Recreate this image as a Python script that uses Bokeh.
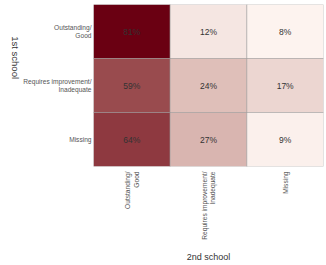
import math
from bokeh.plotting import figure
from bokeh.models import (ColumnDataSource, FactorRange, LinearColorMapper, CategoricalAxis)
from bokeh.transform import transform
from bokeh.core.properties import value
from bokeh.embed import file_html
from bokeh.resources import INLINE

# ---- data ----
first_school = ["Outstanding/\nGood", "Requires improvement/\nInadequate", "Missing"]
second_school = ["Outstanding/\nGood", "Requires improvement/\nInadequate", "Missing"]
pct_from_outstanding = [81, 12, 8]
pct_from_requires = [59, 24, 17]
pct_from_missing = [64, 27, 9]
x_title = "2nd school"
y_title = "1st school"

rows = [pct_from_outstanding, pct_from_requires, pct_from_missing]
xs, ys, vs, labels = [], [], [], []
for fs, row in zip(first_school, rows):
    for ss, v in zip(second_school, row):
        xs.append(ss)
        ys.append(fs)
        vs.append(v)
        labels.append(f"{v}%")
src = ColumnDataSource(dict(x=xs, y=ys, v=vs, label=labels))

# ---- colour scale ----
def _hex(c):
    return tuple(int(c[i:i + 2], 16) for i in (1, 3, 5))

stops = ["#fdf3ef", "#b87c75", "#6a0012"]
palette = []
n = 256
for i in range(n):
    t = i / (n - 1) * (len(stops) - 1)
    k = min(int(t), len(stops) - 2)
    f = t - k
    a, b = _hex(stops[k]), _hex(stops[k + 1])
    palette.append("#%02x%02x%02x" % tuple(round(a[j] + (b[j] - a[j]) * f) for j in range(3)))
mapper = LinearColorMapper(palette=palette, low=min(vs), high=max(vs))

FONT = "Liberation Sans"

p = figure(width=326, height=265,
           x_range=FactorRange(factors=second_school),
           y_range=FactorRange(factors=list(reversed(first_school))),
           output_backend="svg", toolbar_location=None,
           min_border_left=93, min_border_right=3, min_border_top=4, min_border_bottom=99)

p.rect(x="x", y="y", width=1, height=1, source=src,
       fill_color=transform("v", mapper), line_color="#999999", line_alpha=0.5, line_width=1)
p.text(x="x", y="y", text="label", source=src, text_align="center", text_baseline="middle",
       text_font=value(FONT), text_font_size="8.5px", text_color="#333333")

p.grid.grid_line_color = None
p.outline_line_color = None
p.background_fill_color = "white"
p.border_fill_color = "white"

for ax in (p.xaxis[0], p.yaxis[0]):
    ax.major_tick_line_color = None
    ax.minor_tick_line_color = None
    ax.major_tick_out = 0
    ax.major_tick_in = 0
    ax.axis_line_color = None
    ax.major_label_text_font = FONT
    ax.major_label_text_font_size = "6.6px"
    ax.major_label_text_color = "#555555"

xa = p.xaxis[0]
xa.major_label_orientation = math.pi / 2
xa.major_label_standoff = 5
xa.axis_label = x_title
xa.axis_label_standoff = 9
xa.axis_label_text_font = FONT
xa.axis_label_text_font_size = "9px"
xa.axis_label_text_font_style = "normal"
xa.axis_label_text_color = "#333333"

ya = p.yaxis[0]
ya.major_label_standoff = 2

# y title reading top-to-bottom, as a one-label extra categorical axis
p.extra_y_ranges = {"ytitle": FactorRange(factors=["\u00a0", y_title], range_padding=5.25,
                                          range_padding_units="absolute")}
ta = CategoricalAxis(y_range_name="ytitle",
                     major_label_orientation=-math.pi / 2,
                     major_label_standoff=5,
                     major_tick_out=0, major_tick_in=0,
                     major_tick_line_color=None, minor_tick_line_color=None, axis_line_color=None,
                     major_label_text_font=FONT, major_label_text_font_size="9.5px",
                     major_label_text_color="#333333")
p.add_layout(ta, "left")

open("out.html", "w").write(file_html(p, INLINE))
